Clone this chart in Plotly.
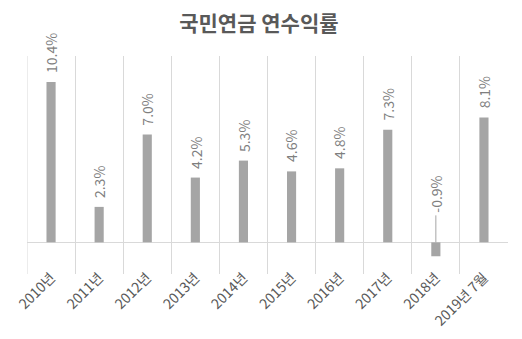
import plotly.graph_objects as go

categories = ["2010년", "2011년", "2012년", "2013년", "2014년", "2015년", "2016년", "2017년", "2018년", "2019년 7월"]
values = [10.4, 2.3, 7.0, 4.2, 5.3, 4.6, 4.8, 7.3, -0.9, 8.1]
labels = ["10.4%", "2.3%", "7.0%", "4.2%", "5.3%", "4.6%", "4.8%", "7.3%", "-0.9%", "8.1%"]
title = "국민연금 연수익률"

FONT = "Noto Sans CJK KR"

fig = go.Figure()
fig.add_trace(go.Bar(x=categories, y=values, marker=dict(color="#a5a5a5", line=dict(width=0)),
                     hoverinfo="skip"))

annotations = []
shapes = [dict(type="line", xref="x", yref="paper", x0=-0.5, x1=-0.5, y0=0, y1=1,
               line=dict(color="#d9d9d9", width=1), layer="below")]
for c, v, t in zip(categories, values, labels):
    if v >= 0:
        annotations.append(dict(x=c, y=v, text=t, textangle=-90, showarrow=False,
                                xanchor="center", yanchor="bottom", yshift=7,
                                font=dict(family=FONT, size=14, color="#7f7f7f")))
    else:
        annotations.append(dict(x=c, y=0, text=t, textangle=-90, showarrow=False,
                                xanchor="center", yanchor="bottom", yshift=28,
                                font=dict(family=FONT, size=14, color="#7f7f7f")))
        shapes.append(dict(type="line", xref="x", yref="y", x0=c, x1=c, y0=0, y1=1.75,
                           line=dict(color="#a6a6a6", width=1)))

fig.update_layout(
    width=522, height=339,
    margin=dict(l=27, r=14, t=56, b=65),
    paper_bgcolor="white", plot_bgcolor="white",
    title=dict(text=f"<b>{title}</b>", x=0.496, xanchor="center", y=0.93, yanchor="middle",
               font=dict(family=FONT, size=21, color="#595959")),
    bargap=0.81,
    showlegend=False,
    annotations=annotations,
    shapes=shapes,
    xaxis=dict(type="category", tickson="boundaries", showgrid=True, gridcolor="#d9d9d9",
               gridwidth=1, ticks="", tickangle=-45, ticklabelstandoff=-8,
               tickfont=dict(family=FONT, size=14, color="#595959"), automargin=False,
               range=[-0.5, 9.5], showline=False, zeroline=False),
    yaxis=dict(range=[-2.05, 12.08], showgrid=False, showticklabels=False, ticks="",
               automargin=False,
               zeroline=True, zerolinecolor="#d9d9d9", zerolinewidth=1, showline=False),
)

fig.write_html("out.html")
